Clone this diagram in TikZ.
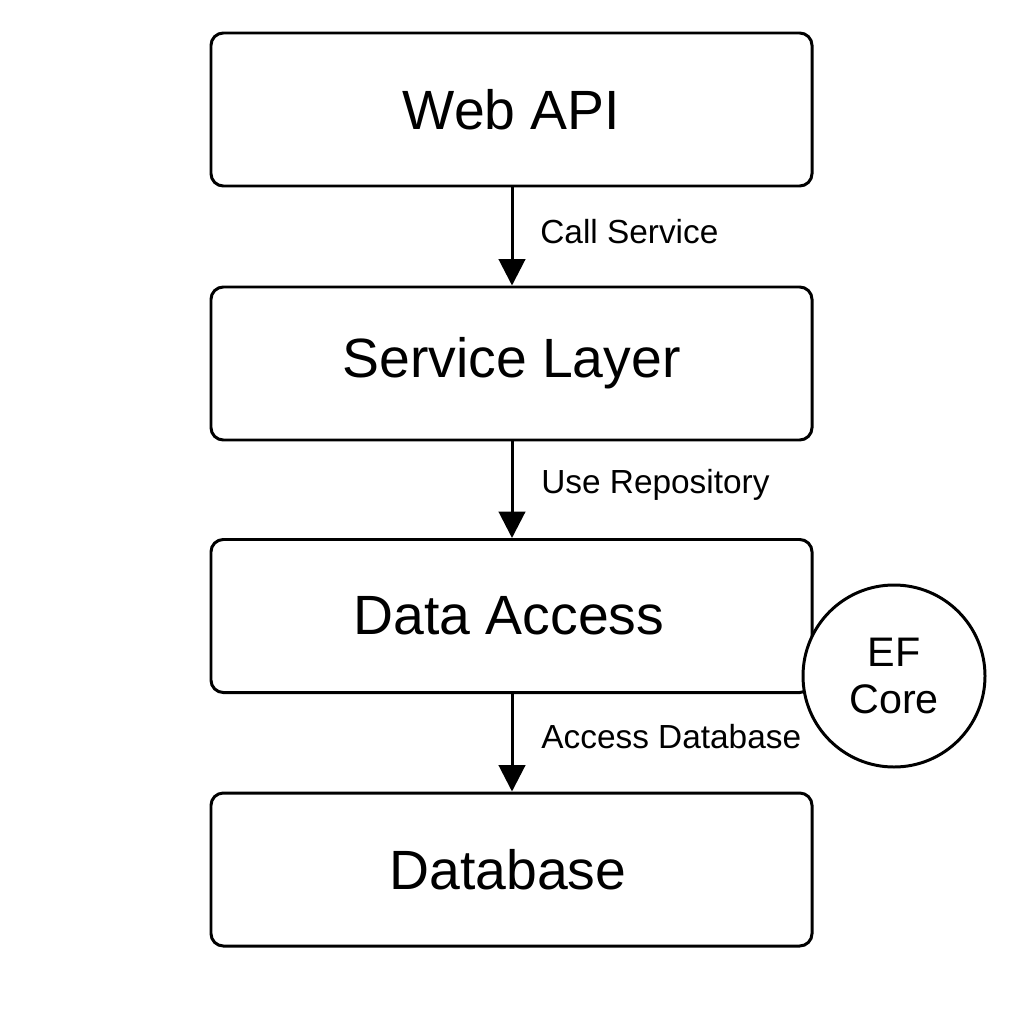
\documentclass[tikz,border=0pt]{standalone}
\usepackage{fontspec}
\setmainfont{Liberation Sans}
\usetikzlibrary{arrows.meta}
\begin{document}
\begin{tikzpicture}[x=0.02cm,y=-0.02cm,
  layer/.style={draw,line width=1.7pt,rounded corners=7pt,minimum width=601*0.02cm,minimum height=153*0.02cm,inner sep=0pt,font=\fontsize{31.5}{38}\selectfont},
  conn/.style={line width=1.7pt,-{Triangle[length=15pt,width=15pt]}},
  lbl/.style={anchor=west,inner sep=0pt,font=\fontsize{19}{23}\selectfont},
  circ/.style={draw,fill=white,circle,line width=1.7pt,minimum size=182*0.02cm,inner sep=0pt,align=center,font=\fontsize{23.5}{27}\selectfont}]
\useasboundingbox (0,0) rectangle (1024,1024);
\node[layer] (web) at (511.5,109.5) {Web API};
\node[layer] (svc) at (511.5,363.5) {Service Layer};
\node[layer] (dal) at (511.5,616) {\hspace*{-3pt}Data Access};
\node[layer] (db) at (511.5,869.5) {\hspace*{-4pt}Database};
\node[circ] (ef) at (894,676) {EF\\[-0.5pt]Core};
\draw[conn] (web.south -| 512,0) -- (svc.north -| 512,0);
\draw[conn] (svc.south -| 512,0) -- (dal.north -| 512,0);
\draw[conn] (dal.south -| 512,0) -- (db.north -| 512,0);
\node[lbl] (l1) at (540,232) {Call Service};
\node[lbl] (l2) at (541,485) {Use Repository};
\node[lbl] (l3) at (541,737) {Access Database};
\end{tikzpicture}
\end{document}
